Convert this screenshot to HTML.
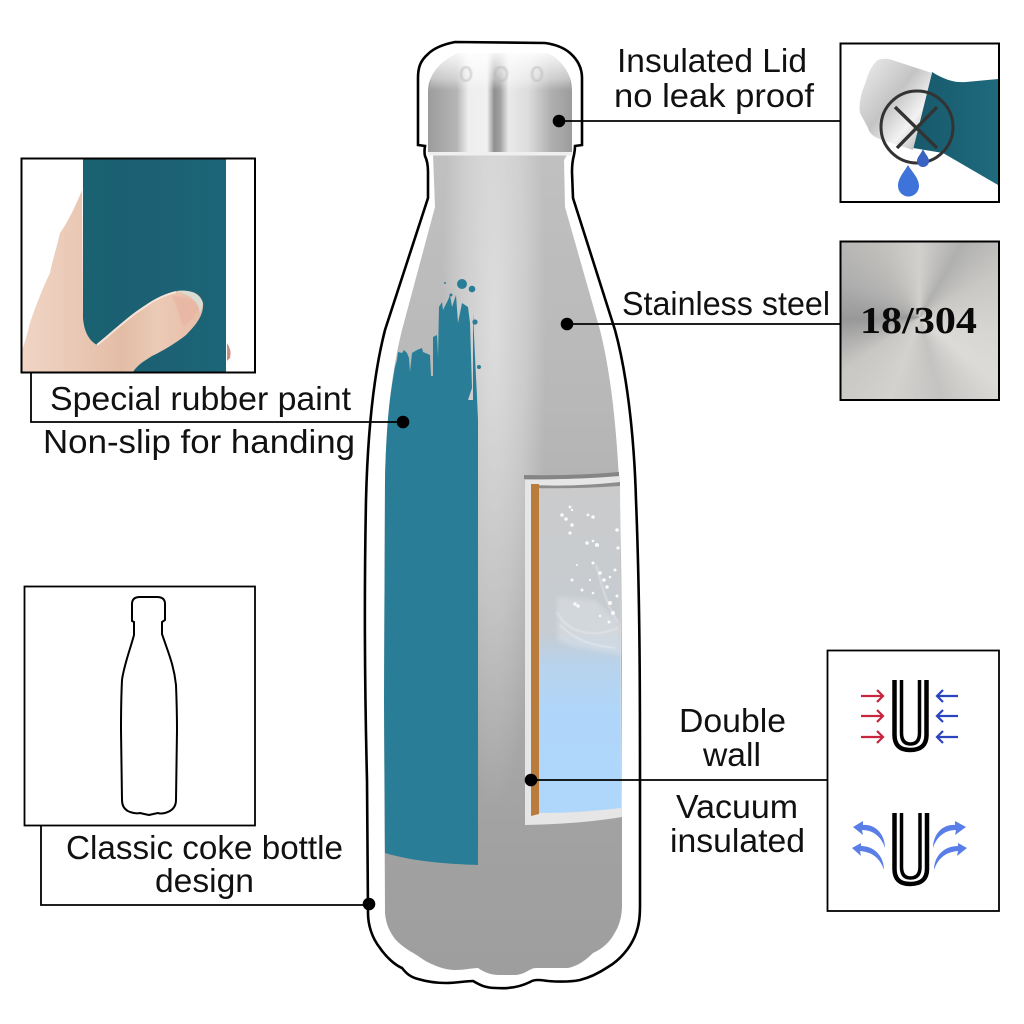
<!DOCTYPE html>
<html><head><meta charset="utf-8"><style>
html,body{margin:0;padding:0;background:#fff}
#w{position:relative;width:1024px;height:1024px;overflow:hidden}
#steel{position:absolute;left:840px;top:241px;width:159px;height:159px;background:conic-gradient(from 0deg at 50% 48%,#d2d0cd 0deg,#b0b0af 30deg,#c8c7c4 60deg,#d6d5d2 100deg,#dcdbd8 130deg,#c4c3c1 165deg,#d3d2cf 200deg,#c8c7c4 235deg,#989898 268deg,#aeaeae 295deg,#bdbcb9 325deg,#d2d0cd 360deg)}
svg{position:absolute;left:0;top:0}
text{font-family:"Liberation Sans",sans-serif;font-size:33px;fill:#111}
</style></head><body><div id="w"><div id="steel"></div>
<svg width="1024" height="1024" viewBox="0 0 1024 1024" xmlns="http://www.w3.org/2000/svg">
<defs>
<linearGradient id="body" gradientUnits="userSpaceOnUse" x1="0" x2="0" y1="155" y2="975"><stop offset="0" stop-color="#c0c0c0"/><stop offset=".3" stop-color="#b8b8b8"/><stop offset=".66" stop-color="#a9a9a9"/><stop offset=".85" stop-color="#a1a1a1"/><stop offset="1" stop-color="#9e9e9e"/></linearGradient>
<radialGradient id="hi" gradientUnits="userSpaceOnUse" cx="0" cy="0" r="1" gradientTransform="translate(494 330) scale(52 480)"><stop offset="0" stop-color="#fff" stop-opacity=".5"/><stop offset=".6" stop-color="#fff" stop-opacity=".26"/><stop offset="1" stop-color="#fff" stop-opacity="0"/></radialGradient>
<linearGradient id="cap" x1="0" x2="1" y1="0" y2="0"><stop offset="0" stop-color="#9c9c9c"/><stop offset=".2" stop-color="#b5b5b5"/><stop offset=".28" stop-color="#eeeeee"/><stop offset=".41" stop-color="#f0f0f0"/><stop offset=".46" stop-color="#8f8f8f"/><stop offset=".5" stop-color="#a0a0a0"/><stop offset=".56" stop-color="#eaeaea"/><stop offset=".7" stop-color="#dcdcdc"/><stop offset=".85" stop-color="#b0b0b0"/><stop offset="1" stop-color="#9c9c9c"/></linearGradient>
<linearGradient id="capTop" x1="0" x2="0" y1="0" y2="1"><stop offset="0" stop-color="#fff" stop-opacity=".9"/><stop offset=".7" stop-color="#fff" stop-opacity=".4"/><stop offset="1" stop-color="#fff" stop-opacity="0"/></linearGradient>
<linearGradient id="glass" gradientUnits="userSpaceOnUse" x1="0" x2="0" y1="485" y2="813"><stop offset="0" stop-color="#cbcbcb"/><stop offset=".45" stop-color="#c6ccd2"/><stop offset=".55" stop-color="#b8d3ec"/><stop offset=".7" stop-color="#afd6fa"/><stop offset="1" stop-color="#afd7fc"/></linearGradient>
<linearGradient id="capS" x1="0" x2="1" y1="0" y2="1"><stop offset="0" stop-color="#eeeeee"/><stop offset=".45" stop-color="#c4c4c4"/><stop offset=".7" stop-color="#f2f2f2"/><stop offset="1" stop-color="#a0a0a0"/></linearGradient>
<linearGradient id="tealS" x1="0" x2="1" y1="0" y2="0"><stop offset="0" stop-color="#17596b"/><stop offset="1" stop-color="#1f6a7d"/></linearGradient>
<linearGradient id="hold" x1="0" x2="1" y1="0" y2="0"><stop offset="0" stop-color="#1a6172"/><stop offset=".5" stop-color="#1c6073"/><stop offset="1" stop-color="#1b6678"/></linearGradient>
<linearGradient id="skin" x1="0" x2="1" y1="0" y2="0"><stop offset="0" stop-color="#f0d5c5"/><stop offset=".35" stop-color="#e9c6b2"/><stop offset=".55" stop-color="#e3bca5"/><stop offset=".75" stop-color="#ebcab6"/><stop offset="1" stop-color="#e8bda8"/></linearGradient>
<filter id="soft" x="-5%" y="-5%" width="110%" height="110%"><feGaussianBlur stdDeviation=".8"/></filter>
<filter id="soft2" x="-20%" y="-20%" width="140%" height="140%"><feGaussianBlur stdDeviation="2.500"/></filter>
</defs>

<!-- outline -->
<path d="M455 42 C450 43 436 46 428 54 C420 61 418 68 418 78 L418 145 L425 146 Q424 152 425 156 Q428 162 428 172 L428 198 L385 330 C376 365 368 420 366 500 C364 600 365 700 367 780 L368 913 C368 925 372 938 380 948 C386 957 395 965 402 968 C406 973 410 977 418 979 C428 982 436 983 446 983 C456 983 466 981 473 981 C480 985 485 988 496 988 C510 989 522 986 530 982 C535 979 540 980 548 981 C560 982 570 982 580 980 C592 977 602 971 608 967 C620 960 630 948 635 936 C639 926 640 918 640 905 L640 780 C640 700 640 600 636 500 C634 430 626 370 615 330 L573 198 L572 172 Q572 162 574 155 Q575 150 575 146 L582 145 L582 78 C582 68 578 60 570 53 C562 46 552 44 545 43 Z" fill="#fff" stroke="#000" stroke-width="2.600"/>

<!-- body -->
<path d="M433 155 L435 207 L402 330 C392 370 386 420 385 480 L384 700 L385 913 C386 925 390 932 395 939 C403 948 412 952 418 956 C430 965 445 970 455 970 C465 970 472 968 478 968 C484 972 490 975 500 975 L516 975 C526 974 530 968 536 968 L568 968 C578 966 586 960 593 953 C602 949 610 942 614 934 C620 925 622 915 622 905 L622 700 C622 600 621 520 619 480 C616 420 610 370 600 330 L565 207 L564 160 L567 155 Z" fill="url(#body)"/>
<path d="M433 155 L435 207 L402 330 C392 370 386 420 385 480 L384 700 L385 913 L622 905 L622 700 C622 600 621 520 619 480 C616 420 610 370 600 330 L565 207 L564 160 L567 155 Z" fill="url(#hi)"/>

<!-- teal paint -->
<path d="M385 480 C386 440 388 410 392 385 L395 367 L397 360 L398 352 L402 353 L404 350 L407 353 L409 358 L410 372 L412 353 L417 350 L422 348 L423 352 L430 355 L431 376 L433 376 L433 337 L437 335 L438 357 L439 307 L442 302 L443 310 L448 300 L450 295 L452 307 L456 295 L458 323 L462 303 L468 307 L470 323 L472 388 L468 400 L473 400 L473 313 L475 357 L477 397 L478 420 L478 865 C450 864 415 862 385 853 L384 700 Z" fill="#2a7d96"/>
<g fill="#2a7d96"><circle cx="462" cy="284" r="5"/><circle cx="472" cy="289" r="3.300"/><circle cx="475" cy="322" r="2.600"/><circle cx="479" cy="367" r="2"/><circle cx="445" cy="283" r="1"/><circle cx="451" cy="295" r="1.500"/></g>

<!-- cap -->
<path d="M460 53 L547 53 C556 57 566 66 570 78 Q572 84 572 92 L572 153 L428 153 L428 92 Q428 84 431 78 C436 66 448 57 460 53 Z" fill="url(#cap)"/>
<path d="M460 53 L547 53 C556 57 566 66 570 78 L571 90 L429 90 L431 78 C436 66 448 57 460 53 Z" fill="url(#capTop)"/>
<g fill="none" stroke="#b5b5b5" stroke-opacity=".5" stroke-width="2.500" filter="url(#soft)"><ellipse cx="466" cy="74" rx="5" ry="7"/><ellipse cx="501" cy="74" rx="6" ry="7"/><ellipse cx="537" cy="74" rx="5" ry="7"/></g>
<rect x="428" y="152" width="144" height="3.500" fill="#efefef"/>

<!-- window -->
<path d="M525 480 Q575 479 620 476 L622 817 Q580 824 525 825 Z" fill="#e6e6e6"/>
<path d="M524 475 Q575 476 619 472 L619 476 Q575 480 524 479 Z" fill="#858585"/>
<path d="M539 487 Q580 487 620 483 L621 808 Q580 813 539 813 Z" fill="url(#glass)"/>
<path d="M531 485 Q575 487 620 482 L620 486 Q575 489 531 488 Z" fill="#8d8d8d"/>
<path d="M531 484 L539 484 L539 814 L531 816 Z" fill="#b97c3d"/>
<path d="M557 597 L558 640 C575 650 600 650 621 655 L621 625 L595 600 Z" fill="#fff" opacity=".22" filter="url(#soft2)"/>
<g fill="#fff" opacity=".9">
<circle cx="562" cy="515" r="1.800"/><circle cx="566" cy="519" r="1.800"/><circle cx="572" cy="525" r="1.800"/><circle cx="570" cy="533" r="1.600"/><circle cx="570" cy="507" r="1.400"/><circle cx="572" cy="510" r="1.200"/><circle cx="588" cy="515" r="1.400"/><circle cx="593" cy="517" r="1.800"/><circle cx="587" cy="543" r="1.800"/><circle cx="597" cy="545" r="2"/><circle cx="593" cy="541" r="1.300"/><circle cx="617" cy="530" r="1.800"/><circle cx="618" cy="548" r="1.600"/><circle cx="572" cy="580" r="1.500"/><circle cx="582" cy="590" r="1.500"/><circle cx="593" cy="563" r="1.500"/><circle cx="600" cy="573" r="1.800"/><circle cx="604" cy="580" r="1.800"/><circle cx="607" cy="587" r="1.800"/><circle cx="610" cy="603" r="2"/><circle cx="613" cy="613" r="2"/><circle cx="593" cy="593" r="1.300"/><circle cx="575" cy="604" r="1.700"/><circle cx="578" cy="606" r="1.700"/><circle cx="615" cy="570" r="1.500"/><circle cx="610" cy="577" r="1.300"/><circle cx="577" cy="565" r="1"/><circle cx="590" cy="580" r="1.200"/><circle cx="609" cy="622" r="1.500"/><circle cx="600" cy="616" r="1.200"/><circle cx="617" cy="596" r="1.500"/></g>
<g fill="none" stroke="#fff" stroke-opacity=".4" stroke-width="1.400" filter="url(#soft)">
<path d="M557 612 C565 630 590 640 618 628"/><path d="M560 625 C575 640 590 645 615 648"/><path d="M596 565 C602 585 606 605 618 622"/></g>

<!-- connectors -->
<g stroke="#000" stroke-width="1.800" fill="none">
<path d="M559 121 H840"/><path d="M567 324 H840"/><path d="M531 780 H827"/>
<path d="M41 826 V905 H369"/><path d="M31 373 V422 H403"/>
</g>
<g fill="#000"><circle cx="559" cy="121" r="6.300"/><circle cx="567" cy="324" r="6.300"/><circle cx="531" cy="780" r="6.300"/><circle cx="369" cy="904" r="6.300"/><circle cx="403" cy="422" r="6.300"/></g>

<!-- hand panel -->
<rect x="83" y="159" width="143" height="213" fill="url(#hold)"/>
<path d="M227 343 Q232 350 230 358 L227 361 Z" fill="#c98f82"/>
<path d="M82 190 C76 205 68 222 60 233 C56 250 52 262 50 273 C44 285 36 305 30 323 C27 335 25 342 22 350 L22 372 L133 372 C138 364 146 360 152 356 C165 350 180 340 186 335 C196 325 204 315 203 303 C200 292 190 290 178 291 C165 293 150 303 140 310 C125 320 110 335 97 345 C88 340 84 330 83 318 Z" fill="url(#skin)"/>
<path d="M172 296 C177 305 180 318 183 327 C190 322 197 315 200 307 C196 300 185 296 172 296 Z" fill="#e9b8a5" filter="url(#soft)"/>
<path d="M176 291 C190 289 201 294 203 304 L200 313 C198 300 190 295 176 291 Z" fill="#d9dcd2"/>
<path d="M97 345 C110 335 125 320 140 310 C150 303 160 296 176 292" fill="none" stroke="#f7e4d8" stroke-width="2"/>
<rect x="21.500" y="158.500" width="233.500" height="214" fill="none" stroke="#000" stroke-width="2"/>

<!-- lid panel -->
<path d="M932 72 C945 80 955 83 966 82 L998 79 L998 185 L943 153 L913 148 Z" fill="url(#tealS)"/>
<path d="M878 60 Q885 57 895 61 L932 73 L913 150 L882 140 Q870 136 868 128 L860 113 Q858 100 865 84 Q870 66 878 60 Z" fill="url(#capS)"/>
<circle cx="917" cy="127" r="36" fill="none" stroke="#333" stroke-width="3"/>
<path d="M895 107 L937 148 M937 107 L897 148" stroke="#333" stroke-width="3.400" fill="none"/>
<path d="M908 165 C912 172 919 178 919 186 A10.500 10.500 0 0 1 898 186 C898 178 904 172 908 165 Z" fill="#3e74da"/>
<path d="M923 149 C925 154 929 157 929 161 A6 6 0 0 1 917 161 C917 157 921 154 923 149 Z" fill="#3a62c0"/>
<rect x="840.500" y="43.500" width="158.500" height="158.500" fill="none" stroke="#000" stroke-width="2"/>

<!-- steel panel frame -->
<rect x="840.500" y="241.500" width="158.500" height="158.500" fill="none" stroke="#000" stroke-width="2"/>

<!-- classic panel -->
<rect x="24.500" y="586.500" width="230.500" height="239" fill="#fff" stroke="#000" stroke-width="1.800"/>
<path d="M132 604 Q132 597 140 597 H157 Q165 597 165 604 V620 L162 622 V634 C168 652 174 665 176 685 Q177 710 177 730 L176 800 Q176 810 165 813 Q160 814 158 813 Q153 814 149 815 Q144 814 140 813 Q136 814 130 812 Q122 809 122 800 L121 730 Q121 700 122 680 C124 665 130 650 134 635 V622 L132 621 Z" fill="#fff" stroke="#000" stroke-width="2"/>

<!-- U panel -->
<rect x="827.500" y="650.500" width="171.500" height="260.500" fill="#fff" stroke="#000" stroke-width="1.800"/>
<g fill="none" stroke="#000">
<path d="M894.500 680 V735 Q894.500 750 910 750 Q926.500 750 926.500 735 V680" stroke-width="4.500"/>
<path d="M901.500 680 V733 Q901.500 744 910.500 744 Q919.500 744 919.500 733 V680" stroke-width="3.500"/>
<path d="M894.500 813 V869 Q894.500 884 910 884 Q927 884 927 869 V813" stroke-width="4.500"/>
<path d="M901.500 813 V867 Q901.500 878 910.500 878 Q920 878 920 867 V813" stroke-width="3.500"/>
</g>
<g fill="none" stroke="#c8253f" stroke-width="2.200"><path d="M861 696 H882 M877 690 L883 696 L877 702"/><path d="M861 716 H882 M877 710 L883 716 L877 722"/><path d="M861 737 H882 M877 731 L883 737 L877 743"/></g>
<g fill="none" stroke="#2b45c0" stroke-width="2.200"><path d="M958 696 H938 M943 690 L937 696 L943 702"/><path d="M958 716 H938 M943 710 L937 716 L943 722"/><path d="M958 737 H938 M943 731 L937 737 L943 743"/></g>
<g fill="#5a7ee8">
<path d="M885 848 C882 838 874 830 862 830 L863 835 L853 827 L863 821 L863 825 C876 824 885 835 885 848 Z"/>
<path d="M884 870 C880 858 872 852 860 851 L861 856 L852 848 L861 843 L861 846 C874 846 884 856 884 870 Z"/>
<path d="M933 848 C936 838 944 830 956 830 L955 835 L966 827 L955 821 L955 825 C942 824 933 835 933 848 Z"/>
<path d="M934 870 C938 858 946 852 958 851 L957 856 L967 848 L958 843 L958 846 C944 846 934 856 934 870 Z"/>
</g>

<!-- labels -->
<text x="617" y="72" textLength="190" lengthAdjust="spacingAndGlyphs">Insulated Lid</text>
<text x="614" y="107" textLength="200" lengthAdjust="spacingAndGlyphs">no leak proof</text>
<text x="622" y="315" textLength="208" lengthAdjust="spacingAndGlyphs">Stainless steel</text>
<text x="50" y="410" textLength="301" lengthAdjust="spacingAndGlyphs">Special rubber paint</text>
<text x="43" y="453" textLength="312" lengthAdjust="spacingAndGlyphs">Non-slip for handing</text>
<text x="66" y="859" textLength="277" lengthAdjust="spacingAndGlyphs">Classic coke bottle</text>
<text x="155" y="892" textLength="99" lengthAdjust="spacingAndGlyphs">design</text>
<text x="679" y="732" textLength="107" lengthAdjust="spacingAndGlyphs">Double</text>
<text x="703" y="766" textLength="58" lengthAdjust="spacingAndGlyphs">wall</text>
<text x="676" y="818" textLength="122" lengthAdjust="spacingAndGlyphs">Vacuum</text>
<text x="670" y="852" textLength="135" lengthAdjust="spacingAndGlyphs">insulated</text>
<text x="860" y="333" textLength="117" lengthAdjust="spacingAndGlyphs" style="font-family:'Liberation Serif',serif;font-weight:bold;font-size:38px;fill:#0a0a0a">18/304</text>
</svg></div></body></html>
